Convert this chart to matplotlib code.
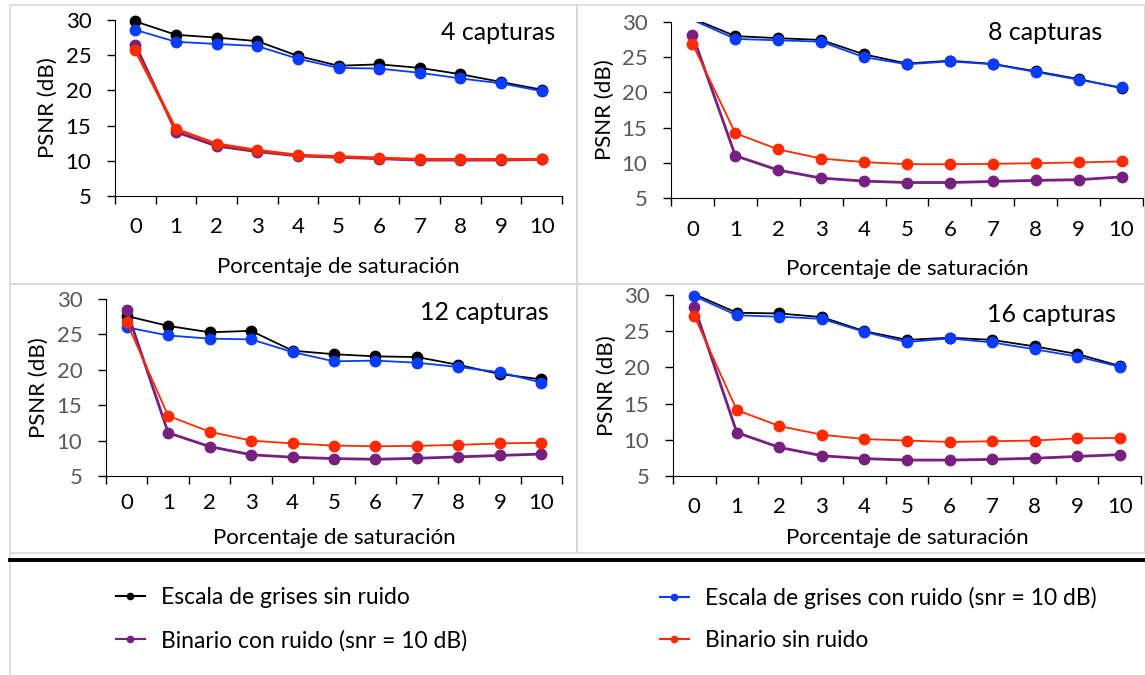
import numpy as np
import matplotlib
matplotlib.use("Agg")
import matplotlib.pyplot as plt
from matplotlib.lines import Line2D

plt.rcParams['font.family'] = ['Lato', 'DejaVu Sans']

W, H = 1145, 675

saturacion = list(range(11))
paneles = ['4 capturas', '8 capturas', '12 capturas', '16 capturas']
series = ['Escala de grises sin ruido', 'Escala de grises con ruido (snr = 10 dB)',
          'Binario con ruido (snr = 10 dB)', 'Binario sin ruido']
colores = ['#000000', '#0a3cff', '#76207f', '#ff2a00']

# PSNR (dB) por panel: [gris sin ruido, gris con ruido, binario con ruido, binario sin ruido]
psnr_4 = [
    [29.8, 27.9, 27.5, 27.0, 24.9, 23.5, 23.7, 23.2, 22.3, 21.2, 20.1],
    [28.6, 26.9, 26.6, 26.3, 24.5, 23.2, 23.1, 22.5, 21.7, 21.0, 19.9],
    [26.5, 14.1, 12.1, 11.3, 10.7, 10.5, 10.3, 10.1, 10.1, 10.1, 10.2],
    [25.7, 14.5, 12.4, 11.5, 10.8, 10.6, 10.4, 10.2, 10.2, 10.2, 10.2],
]
psnr_8 = [
    [30.5, 28.0, 27.7, 27.45, 25.4, 24.1, 24.5, 24.05, 23.0, 21.9, 20.6],
    [30.3, 27.6, 27.4, 27.2, 25.0, 24.0, 24.4, 24.0, 22.9, 21.8, 20.7],
    [28.2, 11.0, 8.96, 7.83, 7.4, 7.2, 7.2, 7.35, 7.5, 7.6, 8.0],
    [26.9, 14.2, 11.9, 10.6, 10.1, 9.8, 9.8, 9.85, 9.95, 10.05, 10.2],
]
psnr_12 = [
    [27.6, 26.2, 25.3, 25.5, 22.7, 22.2, 21.9, 21.8, 20.7, 19.4, 18.65],
    [26.0, 24.85, 24.4, 24.3, 22.5, 21.2, 21.3, 21.0, 20.4, 19.65, 18.2],
    [28.4, 11.1, 9.16, 8.0, 7.65, 7.46, 7.36, 7.5, 7.7, 7.9, 8.1],
    [26.7, 13.5, 11.25, 10.0, 9.6, 9.3, 9.2, 9.25, 9.4, 9.6, 9.7],
]
psnr_16 = [
    [30.1, 27.55, 27.45, 26.95, 25.0, 23.8, 24.1, 23.8, 22.9, 21.85, 20.2],
    [29.85, 27.2, 27.0, 26.7, 24.9, 23.5, 24.0, 23.45, 22.5, 21.5, 20.1],
    [28.4, 11.0, 8.95, 7.8, 7.4, 7.2, 7.2, 7.3, 7.45, 7.7, 7.95],
    [27.1, 14.1, 11.9, 10.7, 10.1, 9.9, 9.7, 9.8, 9.9, 10.2, 10.25],
]
datos = [psnr_4, psnr_8, psnr_12, psnr_16]

# axes boxes in pixels: left, right, top(30), bottom(5)
cajas = [(115, 562, 20, 196), (671, 1143, 22, 198), (106, 562, 299, 476), (673, 1141, 295, 476)]
xlab_y = [267, 269, 538, 538]
ylab_x = [48, 605, 39, 607]
xpad = [15, 16, 12, 15]
titulo_pos = [(555, 33), (1102, 33), (549, 312), (1116, 314)]
ytick_col = ['black', '#595959', '#595959', '#595959']


def px(x, y):
    return x / W, 1 - y / H


fig = plt.figure(figsize=(W / 100, H / 100), dpi=100)

# panel frames
gris = '#d9d9d9'
for (x0, y0, x1, y1) in [(10, 5, 577, 284), (577, 5, 1145, 284), (10, 284, 577, 553), (577, 284, 1145, 553)]:
    fig.add_artist(plt.Rectangle(px(x0, y1), (x1 - x0) / W, (y1 - y0) / H, transform=fig.transFigure,
                                 fill=False, ec=gris, lw=1.2))
fig.add_artist(Line2D([10 / W, 10 / W], [0, 1 - 553 / H], transform=fig.transFigure, color=gris, lw=1.2))
fig.add_artist(Line2D([10 / W, 1], [1 - 560 / H, 1 - 560 / H], transform=fig.transFigure, color='black', lw=2.8))

for i in range(4):
    l, r, t, b = cajas[i]
    ax = fig.add_axes([l / W, 1 - b / H, (r - l) / W, (b - t) / H])
    for k in range(4):
        y = np.array(datos[i][k])
        lw = 2.0 if k == 2 or (i == 0 and k == 3) else 1.3
        ax.plot(saturacion, y, color=colores[k], lw=lw, zorder=2 + k)
        ok = y <= 30
        ax.plot(np.array(saturacion)[ok], y[ok], 'o', color=colores[k], ms=7.5, clip_on=False, zorder=2 + k)
    ax.set_xlim(-0.5, 10.5)
    ax.set_ylim(5, 30)
    ax.set_yticks(range(5, 31, 5))
    ax.set_xticks(saturacion)
    ax.set_xticks(np.arange(-0.5, 11, 1), minor=True)
    ax.tick_params(axis='x', which='major', length=0, pad=xpad[i], labelsize=16, labelcolor='black')
    ax.tick_params(axis='x', which='minor', length=6, width=1, direction='out')
    ax.tick_params(axis='y', length=6, width=1, pad=11, labelsize=16, labelcolor=ytick_col[i])
    ax.spines['top'].set_visible(False)
    ax.spines['right'].set_visible(False)
    ax.patch.set_alpha(0)
    fig.text(*px(ylab_x[i], (t + b) / 2), 'PSNR (dB)', rotation=90, ha='center', va='center', fontsize=16)
    fig.text(*px((l + r) / 2, xlab_y[i]), 'Porcentaje de saturación', ha='center', va='center', fontsize=16)
    fig.text(*px(*titulo_pos[i]), paneles[i], ha='right', va='center', fontsize=18)

hs = [Line2D([], [], color=c, lw=1.5, marker='o', ms=4.5) for c in colores]
opts = dict(frameon=False, fontsize=16.5, handlelength=1.25, handletextpad=0.7, labelspacing=0.95,
            borderpad=0, borderaxespad=0, loc='center left')
fig.legend([hs[0], hs[2]], [series[0], series[2]], bbox_to_anchor=px(116, 619), **opts)
fig.legend([hs[1], hs[3]], [series[1], series[3]], bbox_to_anchor=px(660, 619), **opts)

fig.savefig('out.png', dpi=100)
